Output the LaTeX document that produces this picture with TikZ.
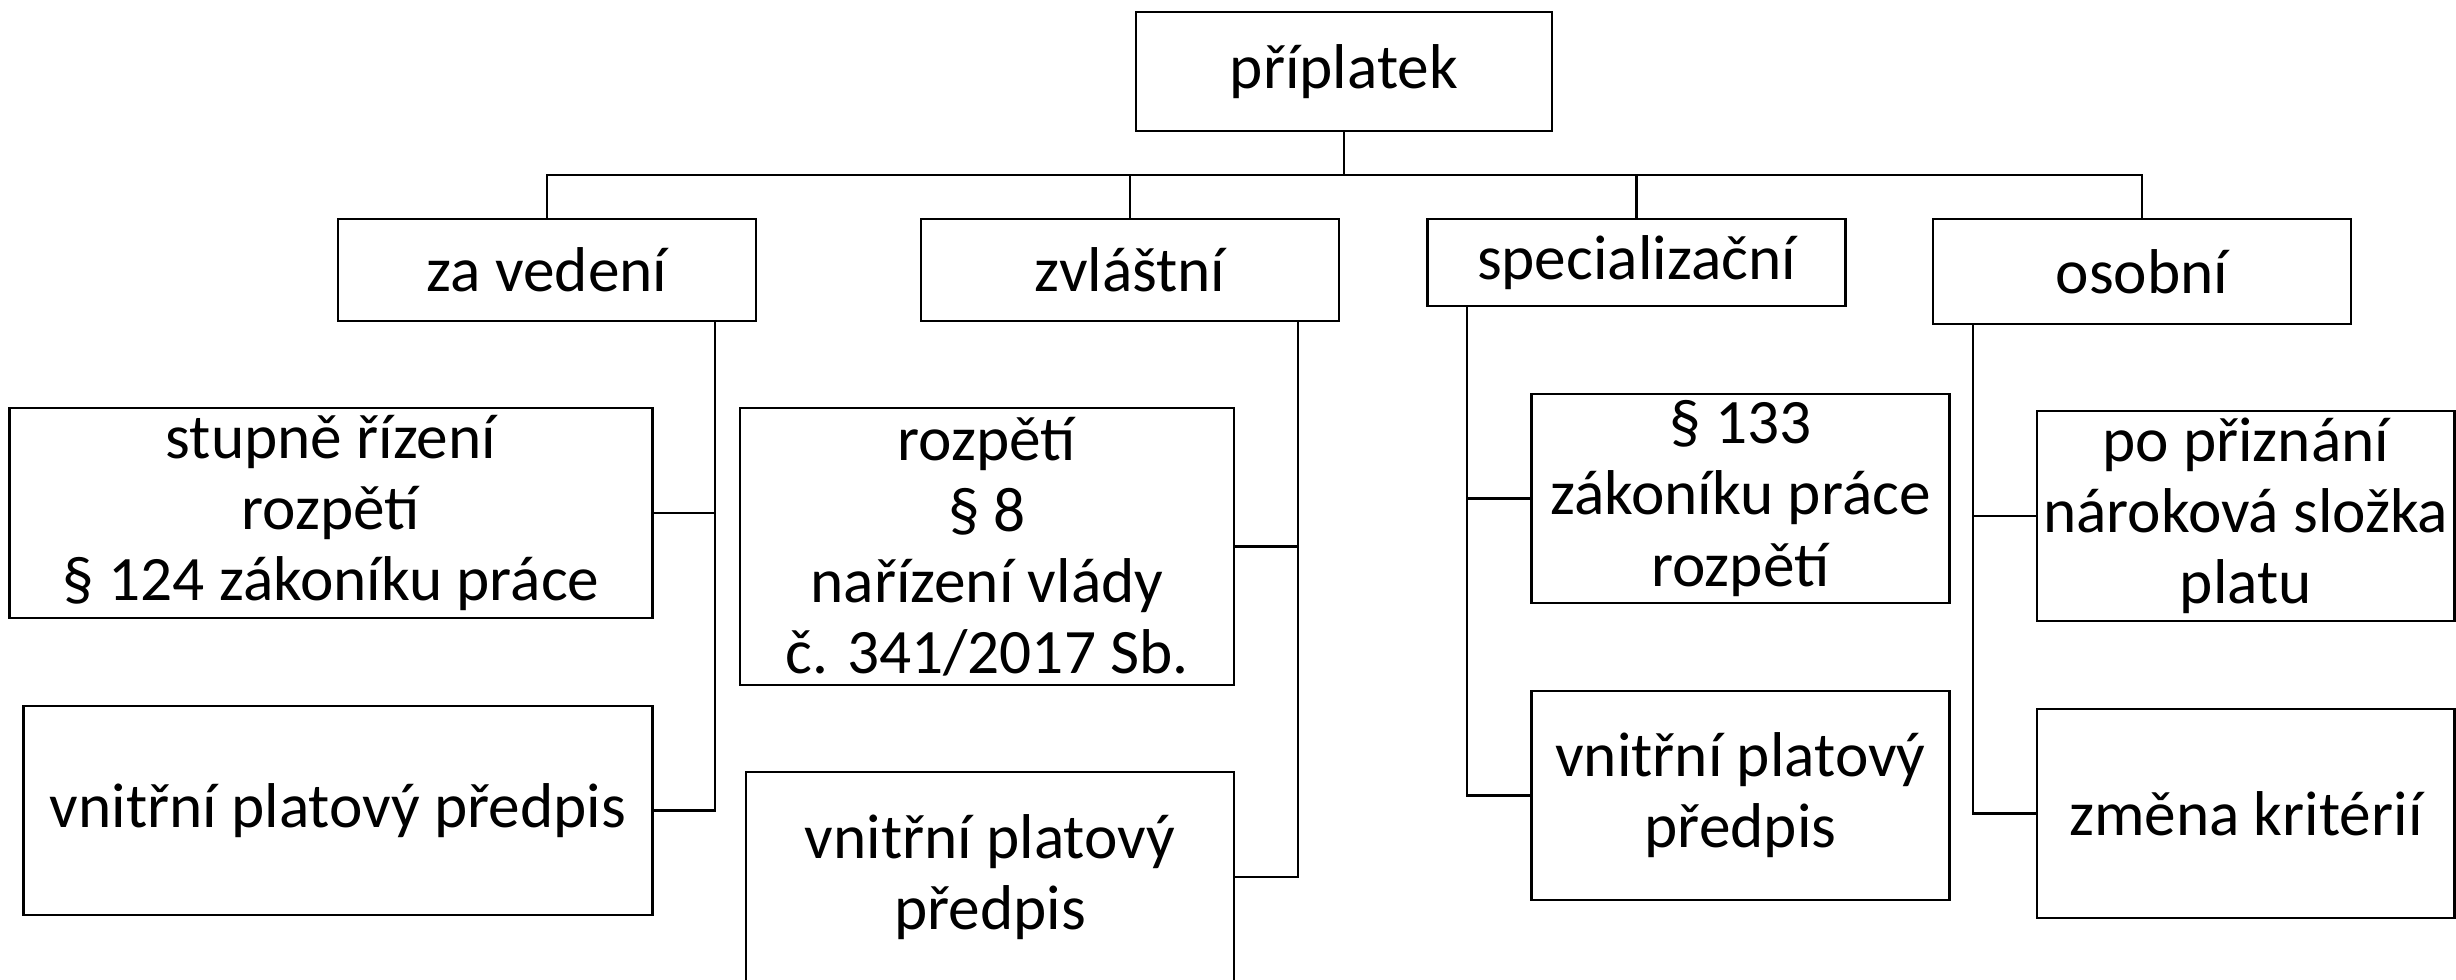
\documentclass[tikz,border=0pt]{standalone}
\usepackage{fontspec}
\setmainfont{Carlito}
\tikzset{
    box/.style={draw=black, line width=0.75pt, rectangle, inner sep=0pt, align=center, font=\fontsize{18}{20.2}\selectfont},
    link/.style={draw=black, line width=0.6pt},
}

\begin{document}
\begin{tikzpicture}[x=0.01cm, y=-0.01cm]

    \useasboundingbox (0,0) rectangle (2456,980);

    \node[box, minimum width=4.16cm, minimum height=1.19cm] (top) at (1344,71.5) {příplatek};

    \node[box, minimum width=4.18cm, minimum height=1.02cm] (lead) at (547,270) {za vedení};
    \node[box, minimum width=4.18cm, minimum height=1.02cm] (spec) at (1130,270) {zvláštní};
    \node[box, minimum width=4.18cm, minimum height=0.87cm] (spc) at (1636.5,262.5) {specializační};
    \node[box, minimum width=4.18cm, minimum height=1.05cm] (pers) at (2142,271.5) {osobní};

    \node[box, minimum width=6.42cm, minimum height=2.10cm] (lead1) at (331,513) {stupně řízení\\rozpětí\\§ 124 zákoníku práce};
    \node[box, minimum width=6.28cm, minimum height=2.09cm] (lead2) at (338,810.5) {vnitřní platový předpis};

    \node[box, minimum width=4.94cm, minimum height=2.77cm] (spec1) at (987,546.5) {rozpětí\\§ 8\\nařízení vlády\\č. 341/2017 Sb.};
    \node[box, minimum width=4.88cm, minimum height=2.10cm] (spec2) at (990,877) {vnitřní platový\\předpis};

    \node[box, minimum width=4.18cm, minimum height=2.09cm] (spc1) at (1740.5,498.5) {§ 133\\zákoníku práce\\rozpětí};
    \node[box, minimum width=4.18cm, minimum height=2.09cm] (spc2) at (1740.5,795.5) {vnitřní platový\\předpis};

    \node[box, minimum width=4.175cm, minimum height=2.10cm] (pers1) at (2245.75,516) {po přiznání\\nároková složka\\platu};
    \node[box, minimum width=4.175cm, minimum height=2.09cm] (pers2) at (2245.75,813.5) {změna kritérií};

    \coordinate (bus) at (1344,175);
    \draw[link] (top.south) -- (bus);
    \draw[link] (lead.north) |- (bus) -| (pers.north);
    \draw[link] (spec.north) -- (spec.north |- bus);
    \draw[link] (spc.north) -- (spc.north |- bus);

    \draw[link] ([xshift=-0.42cm]lead.south east) |- (lead1.east);
    \draw[link] ([xshift=-0.42cm]lead.south east) |- (lead2.east);

    \draw[link] ([xshift=-0.42cm]spec.south east) |- (spec1.east);
    \draw[link] ([xshift=-0.42cm]spec.south east) |- (spec2.east);

    \draw[link] ([xshift=0.41cm]spc.south west) |- (spc1.west);
    \draw[link] ([xshift=0.41cm]spc.south west) |- (spc2.west);

    \draw[link] ([xshift=0.41cm]pers.south west) |- (pers1.west);
    \draw[link] ([xshift=0.41cm]pers.south west) |- (pers2.west);

\end{tikzpicture}
\end{document}
